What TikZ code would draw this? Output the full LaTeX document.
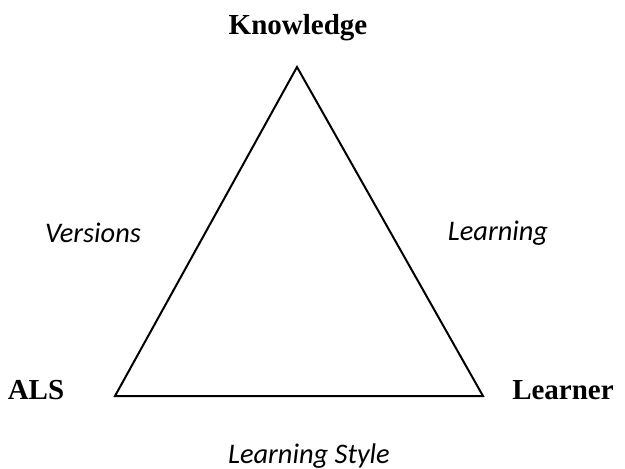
\documentclass[tikz,border=0pt]{standalone}
\usepackage{fontspec}
\setmainfont{Liberation Serif}
\newfontfamily\calib{Carlito}
\begin{document}
\begin{tikzpicture}[x=1pt,y=-1pt,
  vlabel/.style={font=\fontsize{29}{31}\selectfont\bfseries, inner sep=0pt},
  elabel/.style={font=\calib\itshape\fontsize{28.4}{30}\selectfont, inner sep=0pt},
  edge/.style={line width=2pt, line join=miter}]
\useasboundingbox (0,0) rectangle (625,469);
\coordinate (K) at (297,67);
\coordinate (A) at (115,396);
\coordinate (L) at (483,396);
\draw[edge] (K) -- (A) -- (L) -- cycle;
\node[vlabel, anchor=base] (kt) at (298,34) {Knowledge};
\node[vlabel, anchor=base] (at) at (36,399) {ALS};
\node[vlabel, anchor=base] (lt) at (563,399) {Learner};
\node[elabel, anchor=base] (vt) at (93,242) {Versions};
\node[elabel, anchor=base] (lnt) at (498,240) {Learning};
\node[elabel, anchor=base] (lst) at (309,463) {Learning Style};
\end{tikzpicture}
\end{document}
